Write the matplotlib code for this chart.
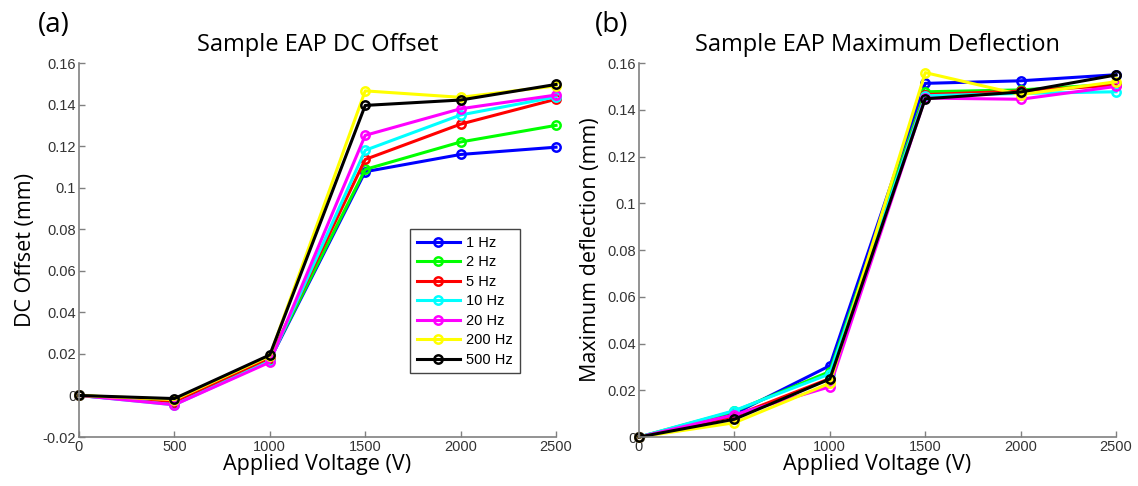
import matplotlib.pyplot as plt
import numpy as np

voltage = [0, 500, 1000, 1500, 2000, 2500]
freq_labels = ['1 Hz', '2 Hz', '5 Hz', '10 Hz', '20 Hz', '200 Hz', '500 Hz']
colors = ['#0000ff', '#00ff00', '#ff0000', '#00ffff', '#ff00ff', '#ffff00', '#000000']

# DC offset (mm), one list per frequency
dc_1hz = [0, -0.0040, 0.0170, 0.1077, 0.1160, 0.1195]
dc_2hz = [0, -0.0025, 0.0175, 0.1088, 0.1220, 0.1300]
dc_5hz = [0, -0.0030, 0.0180, 0.1136, 0.1306, 0.1426]
dc_10hz = [0, -0.0045, 0.0165, 0.1180, 0.1350, 0.1437]
dc_20hz = [0, -0.0045, 0.0160, 0.1252, 0.1380, 0.1446]
dc_200hz = [0, -0.0020, 0.0190, 0.1466, 0.1435, 0.1490]
dc_500hz = [0, -0.0015, 0.0195, 0.1396, 0.1422, 0.1497]

# maximum deflection (mm)
md_1hz = [0, 0.0100, 0.0305, 0.1513, 0.1524, 0.1550]
md_2hz = [0, 0.0110, 0.0280, 0.1477, 0.1485, 0.1510]
md_5hz = [0, 0.0090, 0.0250, 0.1465, 0.1480, 0.1505]
md_10hz = [0, 0.0113, 0.0270, 0.1460, 0.1470, 0.1477]
md_20hz = [0, 0.0095, 0.0215, 0.1450, 0.1445, 0.1500]
md_200hz = [0, 0.0061, 0.0230, 0.1559, 0.1465, 0.1520]
md_500hz = [0, 0.0076, 0.0248, 0.1447, 0.1476, 0.1549]

dc = [dc_1hz, dc_2hz, dc_5hz, dc_10hz, dc_20hz, dc_200hz, dc_500hz]
md = [md_1hz, md_2hz, md_5hz, md_10hz, md_20hz, md_200hz, md_500hz]

label_font = 'Open Sans'
tick_font = 'Liberation Sans'

fig = plt.figure(figsize=(11.38, 4.86), dpi=100)
ax1 = fig.add_axes([0.0694, 0.1008, 0.4192, 0.7695])
ax2 = fig.add_axes([0.5615, 0.1008, 0.4192, 0.7695])


def style(ax, title, ylabel, yticks, ylim):
    ax.set_xlim(0, 2500)
    ax.set_ylim(*ylim)
    ax.set_xticks(voltage)
    ax.set_yticks(yticks)
    ax.set_yticklabels([('%g' % t) for t in yticks], family=tick_font)
    ax.set_xticklabels([str(v) for v in voltage], family=tick_font)
    ax.tick_params(direction='in', length=4, width=1, color='#808080',
                   labelsize=10.5, labelcolor='#333333', pad=2)
    for s in ['top', 'right']:
        ax.spines[s].set_visible(False)
    for s in ['left', 'bottom']:
        ax.spines[s].set_color('#808080')
        ax.spines[s].set_linewidth(1.2)
    ax.set_title(title, family=label_font, fontsize=17, pad=9)
    ax.set_xlabel('Applied Voltage (V)', family=label_font, fontsize=15.5, labelpad=0)
    ax.set_ylabel(ylabel, family=label_font, fontsize=15.5, labelpad=5)


for ys, c, lab in zip(dc, colors, freq_labels):
    ax1.plot(voltage, ys, color=c, lw=2.2, marker='o', ms=6, mfc='none',
             mew=1.8, label=lab, clip_on=False)
for ys, c, lab in zip(md, colors, freq_labels):
    ax2.plot(voltage, ys, color=c, lw=2.2, marker='o', ms=6, mfc='none',
             mew=1.8, label=lab, clip_on=False)

style(ax1, 'Sample EAP DC Offset', 'DC Offset (mm)',
      np.arange(-0.02, 0.161, 0.02).round(2), (-0.02, 0.16))
style(ax2, 'Sample EAP Maximum Deflection', 'Maximum deflection (mm)',
      np.arange(0, 0.161, 0.02).round(2), (0, 0.16))

leg = ax1.legend(loc='upper left', bbox_to_anchor=(0.694, 0.556), borderaxespad=0,
                 fancybox=False, edgecolor='#444444', framealpha=1,
                 handlelength=3.0, borderpad=0.45, labelspacing=0.38,
                 handletextpad=0.4, prop={'family': tick_font, 'size': 10.5})
leg.get_frame().set_linewidth(1.0)

fig.text(0.033, 0.935, '(a)', family=label_font, fontsize=20)
fig.text(0.523, 0.935, '(b)', family=label_font, fontsize=20)

fig.savefig('out.png', dpi=100)
